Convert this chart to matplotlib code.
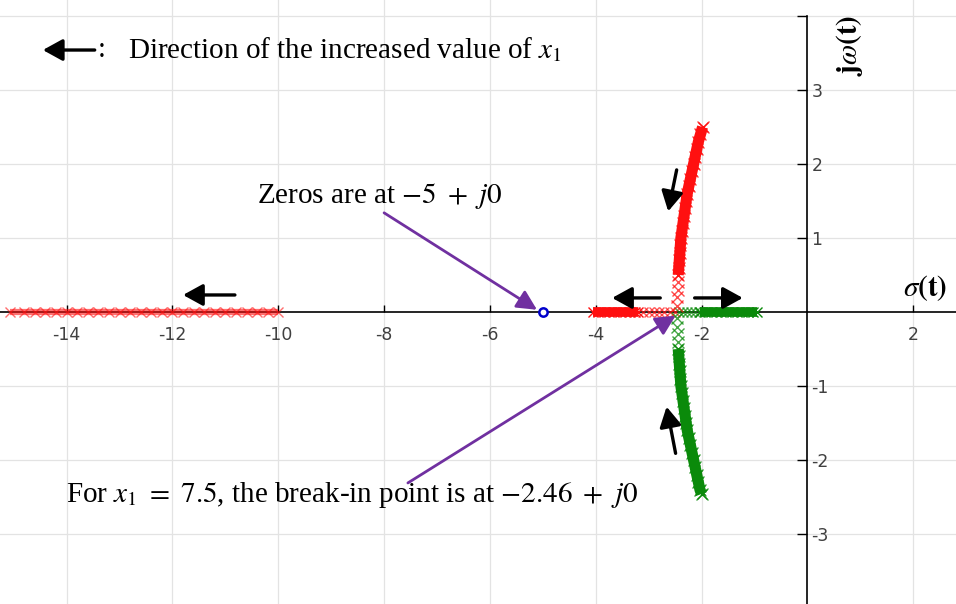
import numpy as np
import matplotlib.pyplot as plt

plt.rcParams['font.family'] = ['Liberation Serif', 'DejaVu Serif']
plt.rcParams['mathtext.fontset'] = 'stix'

# real-axis parts of the locus (sigma values, omega = 0)
far_sigma = [-15.07, -14.8, -14.6, -14.4, -14.2, -14.0, -13.8, -13.6, -13.4, -13.2,
             -13.0, -12.8, -12.6, -12.4, -12.2, -12.0, -11.8, -11.6, -11.4, -11.2,
             -11.0, -10.8, -10.6, -10.4, -10.2, -10.0]
red_dense_sigma = [-4.05, -3.95, -3.85, -3.75, -3.65, -3.55, -3.45, -3.35, -3.25, -3.2]
red_sparse_sigma = [-3.1, -3.0, -2.9, -2.8, -2.7, -2.6, -2.5]
green_sparse_sigma = [-2.42, -2.35, -2.28, -2.2, -2.12, -2.05]
green_dense_sigma = [-2.03, -1.93, -1.83, -1.73, -1.63, -1.53, -1.43, -1.33, -1.23,
                     -1.13, -1.03, -0.95]

# complex branches after the break-in point
upper_sigma = [-2.46, -2.46, -2.45, -2.45, -2.44, -2.43, -2.42, -2.41, -2.40, -2.39,
               -2.37, -2.35, -2.33, -2.31, -2.29, -2.27, -2.24, -2.21, -2.18, -2.15,
               -2.12, -2.09, -2.06, -2.02, -1.98]
upper_omega = [0.08, 0.2, 0.3, 0.4, 0.5, 0.6, 0.7, 0.8, 0.9, 1.0,
               1.1, 1.2, 1.3, 1.4, 1.5, 1.6, 1.7, 1.8, 1.9, 2.0,
               2.1, 2.2, 2.3, 2.4, 2.5]
lower_sigma = [-2.46, -2.46, -2.45, -2.45, -2.44, -2.43, -2.42, -2.41, -2.40, -2.39,
               -2.37, -2.35, -2.33, -2.31, -2.29, -2.27, -2.24, -2.21, -2.18, -2.15,
               -2.12, -2.09, -2.06, -2.03, -2.00]
lower_omega = [-0.08, -0.2, -0.3, -0.4, -0.5, -0.6, -0.7, -0.8, -0.9, -1.0,
               -1.1, -1.2, -1.3, -1.4, -1.5, -1.6, -1.7, -1.8, -1.9, -2.0,
               -2.1, -2.2, -2.3, -2.4, -2.46]

zero_sigma = [-5.0]
breakin = -2.46
x1 = 7.5

red = '#ff1010'
green = '#0a8a0a'
purple = '#7030a0'

fig = plt.figure(figsize=(9.56, 6.04), dpi=100)
ax = fig.add_axes([0, 0, 1, 1])
ax.set_xlim(-15.26, 2.81)
ax.set_ylim(-3.946, 4.216)


def band(s, w, color, lw=0, ms=7, alpha=1.0):
    if lw:
        ax.plot(s, w, color=color, lw=lw, alpha=alpha, solid_capstyle='butt', zorder=3)
    ax.plot(s, w, 'x', color=color, ms=ms, mew=1.0, alpha=alpha, zorder=3)


band(far_sigma, [0] * len(far_sigma), red, lw=4.5, ms=7, alpha=0.6)
band(red_dense_sigma, [0] * len(red_dense_sigma), red, lw=7)
band(red_sparse_sigma, [0] * len(red_sparse_sigma), red, ms=7, alpha=0.7)
band(green_sparse_sigma, [0] * len(green_sparse_sigma), green, ms=7, alpha=0.7)
band(green_dense_sigma, [0] * len(green_dense_sigma), green, lw=7)
band(upper_sigma[4:], upper_omega[4:], red, lw=8)
band(upper_sigma, upper_omega, red, ms=9, alpha=0.75)
band(lower_sigma[4:], lower_omega[4:], green, lw=8)
band(lower_sigma, lower_omega, green, ms=9, alpha=0.75)

ax.plot(zero_sigma, [0], 'o', ms=6, mfc='white', mec='#0000cc', mew=1.8, zorder=4)


def arrow(tail, head, color='k', lw=2.4, hl=0.6, hw=0.33):
    ax.annotate('', xy=head, xytext=tail, zorder=5,
                arrowprops=dict(arrowstyle='-|>,head_length=%s,head_width=%s' % (hl, hw),
                                color=color, lw=lw, mutation_scale=20,
                                shrinkA=0, shrinkB=0))


# direction arrows along the locus
arrow((-10.82, 0.23), (-11.80, 0.23))
arrow((-2.78, 0.19), (-3.69, 0.19))
arrow((-2.13, 0.19), (-1.22, 0.19))
arrow((-2.47, 1.92), (-2.63, 1.36))
arrow((-2.49, -1.91), (-2.66, -1.28))

# legend-like note in the top left corner
arrow((-13.47, 3.54), (-14.45, 3.54))
ax.text(-13.42, 3.54, ':', fontsize=21, va='center', ha='left')
ax.text(-12.84, 3.54, r'Direction of the increased value of $x_1$', fontsize=21,
        va='center', ha='left')

# annotations
ax.text(-10.4, 1.57, r'Zeros are at $-5\ +\ j0$', fontsize=21, va='center', ha='left')
arrow((-8.0, 1.34), (zero_sigma[0] - 0.11, 0.03), color=purple, lw=2, hl=0.6, hw=0.3)

ax.text(-14.02, -2.47,
        r'For $x_1\ =\ {}$, the break-in point is at ${}\ +\ j0$'.format(x1, breakin),
        fontsize=21, va='center', ha='left')
arrow((-7.55, -2.31), (breakin - 0.03, -0.05), color=purple, lw=2, hl=0.6, hw=0.3)

# axis names
ax.text(0.8, 3.6, r'$\mathbf{j}\omega\mathbf{(t)}$', fontsize=21, rotation=90,
        va='center', ha='center')
ax.text(2.22, 0.33, r'$\sigma\mathbf{(t)}$', fontsize=21, va='center', ha='center')

# axes through the origin
for side in ['top', 'left']:
    ax.spines[side].set_visible(False)
ax.spines['bottom'].set_position(('data', 0))
ax.spines['right'].set_position(('data', 0))
ax.spines['right'].set_bounds(-3.946, 4.0)
for side in ['bottom', 'right']:
    ax.spines[side].set_linewidth(1.2)
ax.yaxis.tick_right()

ax.set_xticks([-14, -12, -10, -8, -6, -4, -2, 2])
ax.set_xticklabels(['-14', '-12', '-10', '-8', '-6', '-4', '-2', '2'])
ax.set_yticks([-3, -2, -1, 1, 2, 3, 4])
ax.set_yticklabels(['-3', '-2', '-1', '1', '2', '3', ''])
ax.tick_params(axis='x', direction='in', length=5, width=1, pad=10,
               labelsize=12.5, labelcolor='#404040')
ax.tick_params(axis='y', direction='in', length=7, width=1, pad=3,
               labelsize=12.5, labelcolor='#404040')
for lab in ax.get_xticklabels() + ax.get_yticklabels():
    lab.set_family('DejaVu Sans')

# light grid: every 2 units in sigma, every unit in omega
for s in [-14, -12, -10, -8, -6, -4, -2, 2]:
    ax.axvline(s, color='#e3e3e3', lw=0.9, zorder=0)
for w in [-3, -2, -1, 1, 2, 3, 4]:
    ax.axhline(w, color='#e3e3e3', lw=0.9, zorder=0)

fig.savefig('out.png', dpi=100)
